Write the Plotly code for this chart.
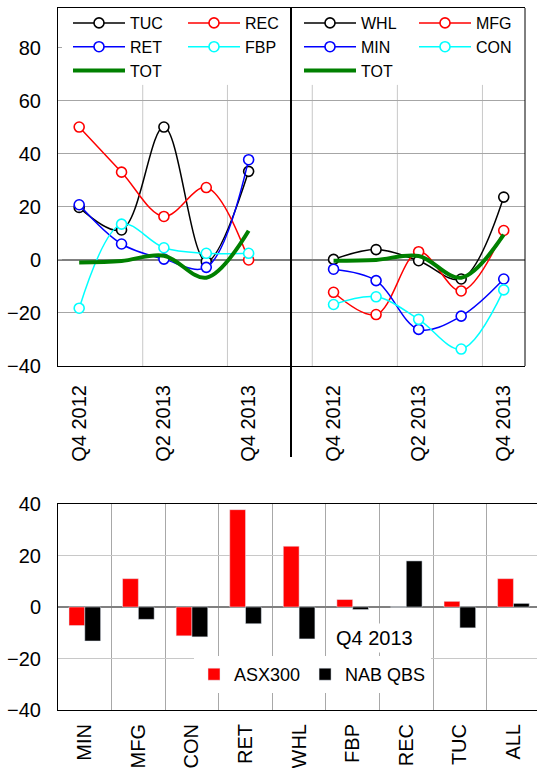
import plotly.graph_objects as go

W, H = 537, 768
FONT = "Liberation Sans, Arial, sans-serif"

# ---------------- data ----------------
quarters = ["Q4 2012", "Q1 2013", "Q2 2013", "Q3 2013", "Q4 2013"]
quarter_ticks = ["Q4 2012", "Q2 2013", "Q4 2013"]

tuc = [19.8, 11.3, 50.1, -0.6, 33.4]
rec = [50.1, 33.1, 16.4, 27.3, 0.0]
ret = [20.8, 6.0, 0.3, -2.8, 37.8]
fbp = [-18.2, 13.5, 4.6, 2.5, 2.5]
tot_left = [-1.0, -0.4, 1.6, -6.7, 11.0]

whl = [0.2, 3.9, -0.3, -7.2, 23.7]
mfg = [-12.2, -20.6, 3.1, -11.7, 11.1]
mining = [-3.5, -7.8, -26.2, -21.2, -7.2]
con = [-16.8, -13.9, -22.4, -33.6, -11.3]
tot_right = [-0.3, 0.0, 1.5, -6.7, 9.5]

sectors = ["MIN", "MFG", "CON", "RET", "WHL", "FBP", "REC", "TUC", "ALL"]
asx300 = [-7.2, 11.0, -11.2, 37.8, 23.6, 2.9, 0.0, 2.2, 11.0]
nab_qbs = [-13.2, -4.8, -11.6, -6.5, -12.4, -1.0, 17.9, -8.1, 1.4]

top_yticks = [-40, -20, 0, 20, 40, 60, 80]
top_ygrid = [-20, 20, 40, 60]
bottom_yticks = [-40, -20, 0, 20, 40]

# ---------------- figure ----------------
xi = list(range(len(quarters)))
fig = go.Figure()


def line_trace(y, name, color, xaxis, legend, group, tot=False):
    if tot:
        return go.Scatter(x=xi, y=y, name=name, mode="lines", xaxis=xaxis, yaxis="y",
                          line=dict(color="#008000", width=4, shape="spline"),
                          legend=legend, legendgroup=group, hoverinfo="skip")
    return go.Scatter(x=xi, y=y, name=name, mode="lines+markers", xaxis=xaxis, yaxis="y",
                      line=dict(color=color, width=1.5, shape="spline"),
                      marker=dict(symbol="circle", size=10, color="white",
                                  line=dict(color=color, width=1.6)),
                      legend=legend, legendgroup=group, hoverinfo="skip")


fig.add_trace(line_trace(tuc, "TUC", "#000000", "x", "legend", "L1"))
fig.add_trace(line_trace(rec, "REC", "#FF0000", "x", "legend", "L2"))
fig.add_trace(line_trace(ret, "RET", "#0000FF", "x", "legend", "L1"))
fig.add_trace(line_trace(fbp, "FBP", "#00FFFF", "x", "legend", "L2"))
fig.add_trace(line_trace(tot_left, "TOT", None, "x", "legend", "L1", tot=True))

fig.add_trace(line_trace(whl, "WHL", "#000000", "x2", "legend2", "R1"))
fig.add_trace(line_trace(mfg, "MFG", "#FF0000", "x2", "legend2", "R2"))
fig.add_trace(line_trace(mining, "MIN", "#0000FF", "x2", "legend2", "R1"))
fig.add_trace(line_trace(con, "CON", "#00FFFF", "x2", "legend2", "R2"))
fig.add_trace(line_trace(tot_right, "TOT", None, "x2", "legend2", "R1", tot=True))

fig.add_trace(go.Bar(x=sectors, y=asx300, name="ASX300", marker_color="#FF0000",
                     xaxis="x3", yaxis="y3", legend="legend3", hoverinfo="skip"))
fig.add_trace(go.Bar(x=sectors, y=nab_qbs, name="NAB QBS", marker_color="#000000",
                     xaxis="x3", yaxis="y3", legend="legend3", hoverinfo="skip"))

px = lambda v: v / W
py = lambda v: 1 - v / H

tick_font = dict(family=FONT, size=20, color="#000000")
top_legend = dict(xanchor="left", yanchor="top", orientation="h", traceorder="grouped",
                  bgcolor="rgba(0,0,0,0)", borderwidth=0,
                  font=dict(family=FONT, size=16), itemwidth=52, entrywidth=48,
                  tracegroupgap=0, itemclick=False, itemdoubleclick=False)

fig.update_layout(
    width=W, height=H,
    margin=dict(l=0, r=0, t=0, b=0, pad=0, autoexpand=False),
    paper_bgcolor="white", plot_bgcolor="white",
    font=dict(family=FONT, color="#000000"),
    barmode="group", bargap=0.41, bargroupgap=0,
    xaxis=dict(domain=[px(58), px(291)], range=[-0.5, 5.0], anchor="y",
               tickmode="array", tickvals=[xi[0], xi[2], xi[4]], ticktext=quarter_ticks,
               tickangle=-90, tickfont=tick_font, showgrid=False, zeroline=False,
               showline=True, linecolor="#000000", linewidth=1, mirror=True,
               ticks="", ticklabelstandoff=10, automargin=False),
    xaxis2=dict(domain=[px(291), px(525)], range=[-1.0, 4.5], anchor="y",
                tickmode="array", tickvals=[xi[0], xi[2], xi[4]], ticktext=quarter_ticks,
                tickangle=-90, tickfont=tick_font, showgrid=False, zeroline=False,
                showline=True, linecolor="#000000", linewidth=1, mirror=True,
                ticks="", ticklabelstandoff=10, automargin=False),
    yaxis=dict(domain=[py(366), py(8)], range=[-40, 95], anchor="x",
               tickmode="array", tickvals=top_yticks, tickfont=tick_font,
               showgrid=False,
               zeroline=True, zerolinecolor="#808080", zerolinewidth=2,
               showline=True, linecolor="#000000", linewidth=1,
               ticks="inside", ticklen=4, tickcolor="#A6A6A6", tickwidth=1,
               ticklabelstandoff=12, automargin=False,
               minor=dict(tickmode="array", tickvals=top_ygrid, showgrid=True,
                          gridcolor="#A6A6A6", gridwidth=1, ticks="")),
    xaxis3=dict(domain=[px(58), 1.0], range=[-0.5, 8.44], anchor="y3",
                type="category", tickson="boundaries", tickangle=-90,
                tickfont=tick_font, showgrid=True, gridcolor="#A8A8A8", gridwidth=1,
                showline=True, linecolor="#000000", linewidth=1, mirror=True,
                ticks="", ticklabelstandoff=5, automargin=False),
    yaxis3=dict(domain=[py(710), py(504)], range=[-40, 40], anchor="x3",
                tickmode="array", tickvals=bottom_yticks, tickfont=tick_font,
                showgrid=True, gridcolor="#C8C8C8", gridwidth=1,
                zeroline=True, zerolinecolor="#808080", zerolinewidth=2,
                showline=True, linecolor="#000000", linewidth=1,
                ticks="", ticklabelstandoff=12, automargin=False),
    legend=dict(top_legend, x=px(68), y=py(6)),
    legend2=dict(top_legend, x=px(299), y=py(6)),
    legend3=dict(x=px(194), y=py(656), xanchor="left", yanchor="top",
                 orientation="h", bgcolor="white", borderwidth=0,
                 font=dict(family=FONT, size=18), itemclick=False, itemdoubleclick=False),
    showlegend=True,
)

# vertical grid lines of the line panels, stopping under the legends
legend_floor = 66
for xv in [1.5, 3.5]:
    fig.add_shape(type="line", xref="x", yref="y", x0=xv, x1=xv, y0=-40, y1=legend_floor,
                  layer="below", line=dict(color="#C8C8C8", width=1))
for xv in [-0.5, 1.5, 3.5]:
    fig.add_shape(type="line", xref="x2", yref="y", x0=xv, x1=xv, y0=-40, y1=legend_floor,
                  layer="below", line=dict(color="#C8C8C8", width=1))

# divider between the two line panels and the right border
fig.add_shape(type="line", xref="x2 domain", yref="paper", x0=0, x1=0,
              y0=py(457), y1=py(8), line=dict(color="#000000", width=2))
fig.add_shape(type="line", xref="x2 domain", yref="y domain", x0=1, x1=1,
              y0=0, y1=1, line=dict(color="#000000", width=1))

fig.add_annotation(text="Q4 2013", xref="x3", yref="y3", x=5.4, y=-12,
                   showarrow=False, font=dict(family=FONT, size=20, color="#000000"),
                   bgcolor="white", borderpad=3)

fig.write_html("out.html", config={"displayModeBar": False},
               post_script="document.body.style.margin='0px';"
                           "document.body.style.overflow='hidden';")
